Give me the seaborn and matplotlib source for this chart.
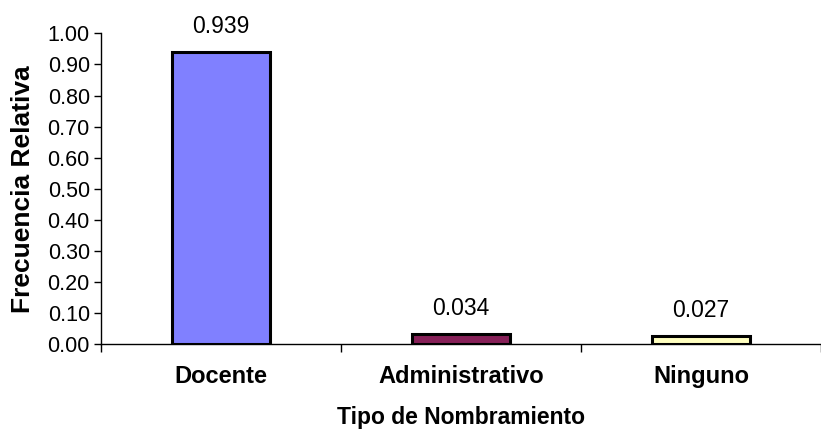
import matplotlib
matplotlib.use("Agg")
import matplotlib.pyplot as plt
import seaborn as sns

# data
categorias = ["Docente", "Administrativo", "Ninguno"]
frecuencias = [0.939, 0.034, 0.027]
colores = ["#8080FF", "#862058", "#FFFFC0"]
y_ticks = [0.0, 0.1, 0.2, 0.3, 0.4, 0.5, 0.6, 0.7, 0.8, 0.9, 1.0]

sns.set_theme(style="white")
plt.rcParams["font.family"] = ["Liberation Sans", "DejaVu Sans"]
plt.rcParams["text.color"] = "black"
plt.rcParams["axes.labelcolor"] = "black"
plt.rcParams["xtick.color"] = "black"
plt.rcParams["ytick.color"] = "black"

fig = plt.figure(figsize=(8.21, 4.34), dpi=100)
ax = fig.add_axes([0.123, 0.207, 0.877, 0.716])

sns.barplot(x=categorias, y=frecuencias, hue=categorias, palette=colores,
            saturation=1, edgecolor="black", linewidth=2.2, width=0.41,
            legend=False, ax=ax)

for cont in ax.containers:
    ax.bar_label(cont, fmt="%.3f", padding=10, fontsize=16.5, color="black")

ax.set_ylim(0, 1.0)
ax.set_xlim(-0.5, 2.45)
ax.set_yticks(y_ticks)
ax.set_yticklabels([f"{v:.2f}" for v in y_ticks], fontsize=15.5)
ax.set_xticks(range(len(categorias)))
ax.set_xticklabels(categorias, fontsize=17, fontweight="bold")
ax.set_xticks([-0.5, 0.5, 1.5, 2.5], minor=True)
ax.tick_params(axis="x", which="major", length=0, pad=15)
ax.tick_params(axis="x", which="minor", length=6, width=1, color="black", direction="out", bottom=True)
ax.tick_params(axis="y", length=5, width=1, color="black", direction="out", left=True, pad=3)

ax.set_ylabel("Frecuencia Relativa", fontsize=19, fontweight="bold", labelpad=9)
ax.set_xlabel("Tipo de Nombramiento", fontsize=16.5, fontweight="bold", labelpad=13)

sns.despine(ax=ax)
for s in ["left", "bottom"]:
    ax.spines[s].set_color("black")
    ax.spines[s].set_linewidth(1)

plt.savefig("out.png", dpi=100)
